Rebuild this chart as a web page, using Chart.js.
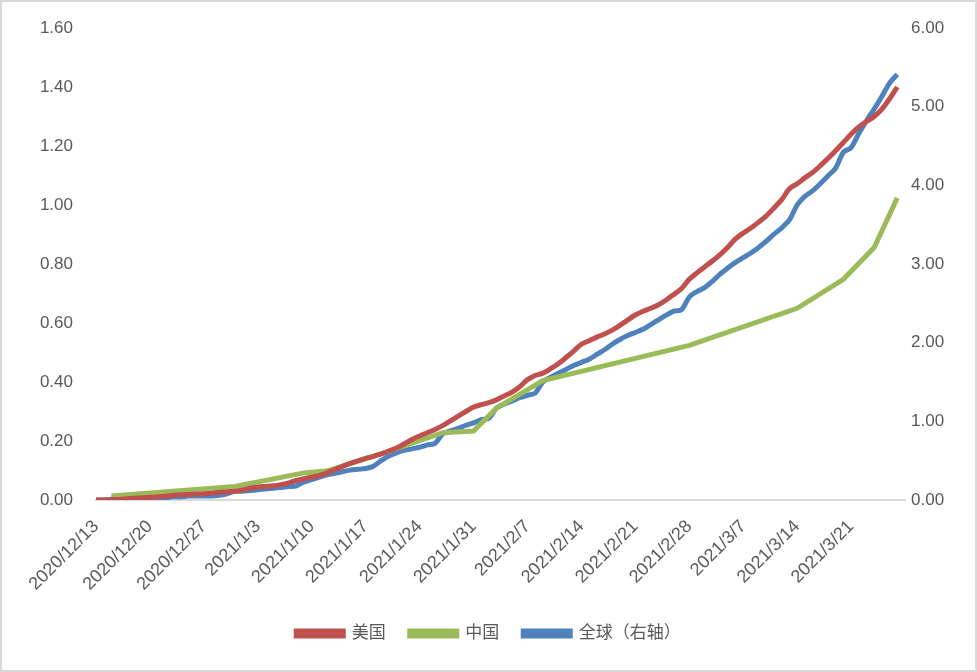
<!DOCTYPE html>
<html>
<head>
<meta charset="utf-8">
<script src="https://cdn.jsdelivr.net/npm/chart.js@4/dist/chart.umd.min.js"></script>
<style>
  body { margin: 0; background: #fff; }
  #wrap { width: 977px; height: 672px; }
</style>
</head>
<body>
<div id="wrap"><canvas id="chart" width="977" height="672"></canvas></div>
<script>
// dates on the category axis (one per day, last one is an empty slot at the end)
var dates = [
  '2020/12/13','2020/12/14','2020/12/15','2020/12/16','2020/12/17','2020/12/18','2020/12/19',
  '2020/12/20','2020/12/21','2020/12/22','2020/12/23','2020/12/24','2020/12/25','2020/12/26',
  '2020/12/27','2020/12/28','2020/12/29','2020/12/30','2020/12/31','2021/1/1','2021/1/2',
  '2021/1/3','2021/1/4','2021/1/5','2021/1/6','2021/1/7','2021/1/8','2021/1/9',
  '2021/1/10','2021/1/11','2021/1/12','2021/1/13','2021/1/14','2021/1/15','2021/1/16',
  '2021/1/17','2021/1/18','2021/1/19','2021/1/20','2021/1/21','2021/1/22','2021/1/23',
  '2021/1/24','2021/1/25','2021/1/26','2021/1/27','2021/1/28','2021/1/29','2021/1/30',
  '2021/1/31','2021/2/1','2021/2/2','2021/2/3','2021/2/4','2021/2/5','2021/2/6',
  '2021/2/7','2021/2/8','2021/2/9','2021/2/10','2021/2/11','2021/2/12','2021/2/13',
  '2021/2/14','2021/2/15','2021/2/16','2021/2/17','2021/2/18','2021/2/19','2021/2/20',
  '2021/2/21','2021/2/22','2021/2/23','2021/2/24','2021/2/25','2021/2/26','2021/2/27',
  '2021/2/28','2021/3/1','2021/3/2','2021/3/3','2021/3/4','2021/3/5','2021/3/6',
  '2021/3/7','2021/3/8','2021/3/9','2021/3/10','2021/3/11','2021/3/12','2021/3/13',
  '2021/3/14','2021/3/15','2021/3/16','2021/3/17','2021/3/18','2021/3/19','2021/3/20',
  '2021/3/21','2021/3/22','2021/3/23','2021/3/24','2021/3/25','2021/3/26','2021/3/27',
  '2021/3/28'
];

// 美国 (left axis)
var usValues = [
  0.000,0.000,0.001,0.002,0.004,0.006,0.008,0.009,0.011,0.013,
  0.016,0.018,0.019,0.020,0.021,0.023,0.026,0.028,0.030,0.034,
  0.040,0.044,0.046,0.048,0.052,0.058,0.066,0.072,0.078,0.083,
  0.092,0.103,0.114,0.124,0.133,0.141,0.148,0.156,0.166,0.176,
  0.190,0.205,0.217,0.228,0.239,0.252,0.268,0.284,0.300,0.315,
  0.323,0.330,0.340,0.353,0.366,0.384,0.408,0.422,0.430,0.445,
  0.462,0.483,0.505,0.528,0.540,0.552,0.563,0.576,0.592,0.610,
  0.627,0.640,0.650,0.662,0.678,0.697,0.717,0.748,0.770,0.790,
  0.810,0.832,0.857,0.885,0.905,0.922,0.942,0.963,0.990,1.018,
  1.055,1.072,1.092,1.110,1.133,1.158,1.184,1.212,1.240,1.265,
  1.283,1.300,1.325,1.360,1.400
];

// 中国 (left axis) - only reported on some days
var chinaDates = ['2020/12/15','2020/12/31','2021/1/9','2021/1/12','2021/1/19','2021/1/27',
  '2021/1/31','2021/2/3','2021/2/9','2021/2/28','2021/3/14','2021/3/20','2021/3/24','2021/3/27'];
var chinaValues = [0.014,0.046,0.092,0.099,0.156,0.228,
  0.234,0.312,0.405,0.524,0.650,0.748,0.856,1.024];

// 全球 (right axis)
var globalValues = [
  0.00,0.00,0.01,0.01,0.02,0.02,0.02,0.03,0.03,0.03,
  0.04,0.04,0.05,0.05,0.05,0.05,0.06,0.08,0.11,0.11,
  0.12,0.13,0.14,0.15,0.16,0.17,0.18,0.23,0.26,0.29,
  0.32,0.34,0.36,0.38,0.39,0.40,0.43,0.50,0.56,0.60,
  0.63,0.65,0.67,0.70,0.72,0.84,0.88,0.91,0.95,0.98,
  1.02,1.04,1.17,1.22,1.26,1.30,1.33,1.36,1.50,1.56,
  1.61,1.66,1.71,1.75,1.79,1.85,1.91,1.98,2.04,2.09,
  2.13,2.17,2.23,2.29,2.35,2.40,2.42,2.58,2.65,2.70,
  2.78,2.87,2.95,3.02,3.08,3.14,3.21,3.29,3.38,3.46,
  3.56,3.75,3.86,3.93,4.02,4.12,4.22,4.42,4.48,4.66,
  4.82,4.97,5.13,5.30,5.41
];

var chinaPoints = [];
for (var i = 0; i < chinaDates.length; i++) {
  chinaPoints.push({x: chinaDates[i], y: chinaValues[i]});
}

var FONT = "'Liberation Sans', 'Noto Sans CJK SC', sans-serif";
var GREY = '#595959';

// white background + light frame round the whole chart
var frame = {
  id: 'frame',
  beforeDraw: function (chart) {
    var c = chart.ctx;
    c.save();
    c.fillStyle = '#fff';
    c.fillRect(0, 0, chart.width, chart.height);
    c.strokeStyle = '#d9d9d9';
    c.lineWidth = 2;
    c.strokeRect(1, 1, chart.width - 2, chart.height - 2);
    c.restore();
  }
};

function fitY(w) {
  return function (scale) {
    scale.width = w;
    scale.paddingTop = 0;
    scale.paddingBottom = 0;
  };
}

var ctx = document.getElementById('chart');
var chart = new Chart(ctx, {
  type: 'line',
  data: {
    labels: dates,
    datasets: [
      {
        label: '美国',
        data: usValues,
        yAxisID: 'y',
        borderColor: '#C0504D',
        backgroundColor: '#C0504D',
        borderWidth: 5,
        pointRadius: 0,
        tension: 0.3
      },
      {
        label: '中国',
        data: chinaPoints,
        yAxisID: 'y',
        borderColor: '#9BBB59',
        backgroundColor: '#9BBB59',
        borderWidth: 5,
        pointRadius: 0,
        tension: 0
      },
      {
        label: '全球（右轴）',
        data: globalValues,
        yAxisID: 'y1',
        borderColor: '#4F81BD',
        backgroundColor: '#4F81BD',
        borderWidth: 5,
        pointRadius: 0,
        tension: 0.3
      }
    ]
  },
  options: {
    responsive: false,
    animation: false,
    layout: { padding: { top: 28, left: 0, right: 0, bottom: 20 } },
    plugins: {
      tooltip: { enabled: false },
      legend: {
        position: 'bottom',
        labels: {
          color: GREY,
          font: { family: FONT, size: 17 },
          boxWidth: 47,
          boxHeight: 5,
          padding: 24
        }
      }
    },
    scales: {
      x: {
        offset: false,
        grid: { display: false, drawTicks: false },
        border: { display: true, color: '#d9d9d9', width: 2 },
        afterFit: function (scale) { scale.height = 101; },
        ticks: {
          autoSkip: false,
          maxRotation: 45,
          minRotation: 45,
          padding: 16,
          color: GREY,
          font: { family: FONT, size: 18 },
          callback: function (val, idx) {
            return (idx % 7 === 0 && idx < 105) ? dates[idx] : '';
          }
        }
      },
      y: {
        position: 'left',
        min: 0,
        max: 1.6,
        grid: { display: false, drawTicks: false },
        border: { display: false },
        afterFit: fitY(96),
        ticks: {
          stepSize: 0.2,
          padding: 23,
          color: GREY,
          font: { family: FONT, size: 17 },
          callback: function (v) { return v.toFixed(2); }
        }
      },
      y1: {
        position: 'right',
        min: 0,
        max: 6,
        grid: { display: false, drawTicks: false },
        border: { display: false },
        afterFit: fitY(72),
        ticks: {
          stepSize: 1,
          padding: 6,
          color: GREY,
          font: { family: FONT, size: 17 },
          callback: function (v) { return v.toFixed(2); }
        }
      }
    }
  },
  plugins: [frame]
});
</script>
</body>
</html>
